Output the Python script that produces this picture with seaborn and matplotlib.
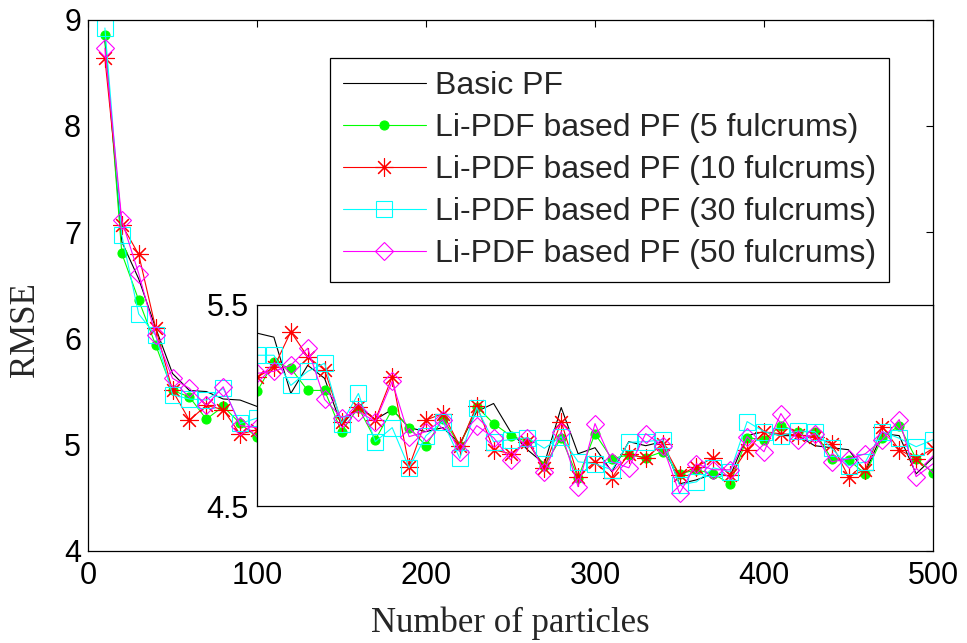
import numpy as np
import pandas as pd
import matplotlib
matplotlib.use("Agg")
import matplotlib.pyplot as plt
import seaborn as sns

# ---------------- data ----------------
particles = list(range(10, 501, 10))

basic_pf = [8.80, 6.91, 6.56, 6.10, 5.67, 5.51, 5.50, 5.43, 5.42, 5.36,
            5.34, 5.06, 5.20, 5.135, 4.90, 5.00, 4.93, 4.98, 4.89, 4.87,
            4.89, 4.81, 4.97, 5.01, 4.87, 4.78, 4.71, 4.99, 4.76, 4.79,
            4.67, 4.82, 4.80, 4.82, 4.61, 4.63, 4.66, 4.65, 4.85, 4.87,
            4.85, 4.85, 4.80, 4.79, 4.78, 4.67, 4.86, 4.85, 4.66, 4.74]

lipdf_5 = [8.85, 6.80, 6.36, 5.94, 5.51, 5.45, 5.24, 5.36, 5.20, 5.07,
           5.215, 5.185, 5.075, 5.075, 4.87, 4.99, 4.83, 4.98, 4.89, 4.80,
           4.935, 4.80, 4.995, 4.91, 4.85, 4.82, 4.70, 4.84, 4.64, 4.86,
           4.735, 4.755, 4.74, 4.77, 4.66, 4.68, 4.66, 4.61, 4.84, 4.83,
           4.90, 4.87, 4.87, 4.735, 4.73, 4.66, 4.84, 4.90, 4.735, 4.665]

lipdf_10 = [8.635, 7.07, 6.79, 6.10, 5.51, 5.23, 5.37, 5.33, 5.10, 5.14,
            5.19, 5.367, 5.243, 5.177, 4.92, 4.994, 4.928, 5.143, 4.695, 4.928,
            4.96, 4.80, 5.00, 4.78, 4.76, 4.82, 4.69, 4.92, 4.646, 4.72,
            4.64, 4.76, 4.737, 4.81, 4.654, 4.696, 4.74, 4.654, 4.78, 4.867,
            4.86, 4.853, 4.845, 4.81, 4.646, 4.68, 4.895, 4.78, 4.734, 4.787]

lipdf_30 = [8.92, 6.97, 6.23, 6.03, 5.47, 5.43, 5.42, 5.53, 5.20, 5.25,
            5.25, 5.10, 5.17, 5.21, 4.91, 5.06, 4.82, 4.89, 4.69, 4.85,
            4.92, 4.737, 4.99, 4.82, 4.83, 4.84, 4.787, 4.845, 4.72, 4.71,
            4.68, 4.817, 4.82, 4.83, 4.605, 4.62, 4.69, 4.67, 4.92, 4.87,
            4.85, 4.873, 4.87, 4.787, 4.70, 4.72, 4.87, 4.837, 4.795, 4.83]

lipdf_50 = [8.73, 7.11, 6.61, 6.03, 5.625, 5.53, 5.37, 5.545, 5.18, 5.16,
            5.17, 5.20, 5.285, 5.03, 4.94, 4.97, 4.92, 5.12, 4.845, 4.87,
            4.93, 4.77, 4.90, 4.84, 4.73, 4.84, 4.67, 4.87, 4.596, 4.91,
            4.72, 4.69, 4.86, 4.80, 4.563, 4.71, 4.68, 4.68, 4.845, 4.77,
            4.96, 4.83, 4.86, 4.72, 4.734, 4.76, 4.83, 4.93, 4.646, 4.71]

labels = ["Basic PF",
          "Li-PDF based PF (5 fulcrums)",
          "Li-PDF based PF (10 fulcrums)",
          "Li-PDF based PF (30 fulcrums)",
          "Li-PDF based PF (50 fulcrums)"]
series = [basic_pf, lipdf_5, lipdf_10, lipdf_30, lipdf_50]

x_ticks = [0, 100, 200, 300, 400, 500]
y_ticks = [4, 5, 6, 7, 8, 9]
inset_y_ticks = [4.5, 5.5]

# ---------------- style ----------------
sns.set_style("white")
plt.rcParams["font.family"] = ["Liberation Sans", "DejaVu Sans"]

styles = [
    dict(color="black", marker=None),
    dict(color="#00ff00", marker="o", markersize=6.5, markerfacecolor="#00ff00",
         markeredgecolor="#00ff00", markeredgewidth=0.8),
    dict(color="#ff0000", marker=(8, 2, 0), markersize=13, markerfacecolor="none",
         markeredgecolor="#ff0000", markeredgewidth=0.8),
    dict(color="#00ffff", marker="s", markersize=11, markerfacecolor="none",
         markeredgecolor="#00ffff", markeredgewidth=0.8),
    dict(color="#ff00ff", marker="D", markersize=9, markerfacecolor="none",
         markeredgecolor="#ff00ff", markeredgewidth=0.8),
]

W, H = 967, 643
fig = plt.figure(figsize=(W / 100, H / 100), dpi=100)
ax = fig.add_axes([88 / W, 1 - 551 / H, (933 - 88) / W, (551 - 19.5) / H])

def draw(a, with_labels):
    for vals, lab, st in zip(series, labels, styles):
        df = pd.DataFrame({"x": particles, "y": vals})
        kw = dict(st)
        if kw["marker"] is None:
            kw.pop("marker")
        sns.lineplot(data=df, x="x", y="y", ax=a, linewidth=0.8,
                     label=lab if with_labels else None, legend=False, **kw)

draw(ax, True)
ax.set_xlim(0, 500)
ax.set_ylim(4, 9)
ax.set_xticks(x_ticks)
ax.set_yticks(y_ticks)
ax.tick_params(direction="in", length=5, width=0.8, top=True, right=True,
               labelsize=22, colors="black")
ax.tick_params(axis="x", pad=7)
ax.tick_params(axis="y", pad=5)
for s in ax.spines.values():
    s.set_visible(True)
    s.set_color("black")
    s.set_linewidth(0.9)
ax.set_xlabel("Number of particles", family=["Liberation Serif"], fontsize=25)
ax.set_ylabel("RMSE", family=["Liberation Serif"], fontsize=25)
ax.xaxis.set_label_coords(0.5, -0.1035)
ax.yaxis.set_label_coords(-0.054, 0.416)

handles, labs = ax.get_legend_handles_labels()
leg = fig.legend(handles, labs, loc="upper left",
                 bbox_to_anchor=(330 / W, 1 - 58 / H), bbox_transform=fig.transFigure,
                 fontsize=23, frameon=True, fancybox=False, edgecolor="black",
                 framealpha=1, borderpad=0.4, labelspacing=0.38,
                 handlelength=2.6, handletextpad=0.28, borderaxespad=0)
leg.get_frame().set_linewidth(0.9)

# inset
axi = fig.add_axes([257 / W, 1 - 506 / H, (933 - 257) / W, (506 - 305) / H])
axi.set_facecolor("white")
draw(axi, False)
axi.set_xlim(100, 500)
axi.set_ylim(4.5, 5.5)
axi.set_xticks([])
axi.set_yticks(inset_y_ticks)
axi.set_yticklabels(["4.5", "5.5"])
axi.tick_params(direction="in", length=0, labelsize=22, pad=6, colors="black")
axi.set_xlabel("")
axi.set_ylabel("")
for s in axi.spines.values():
    s.set_visible(True)
    s.set_color("black")
    s.set_linewidth(0.9)

fig.savefig("out.png", dpi=100)
